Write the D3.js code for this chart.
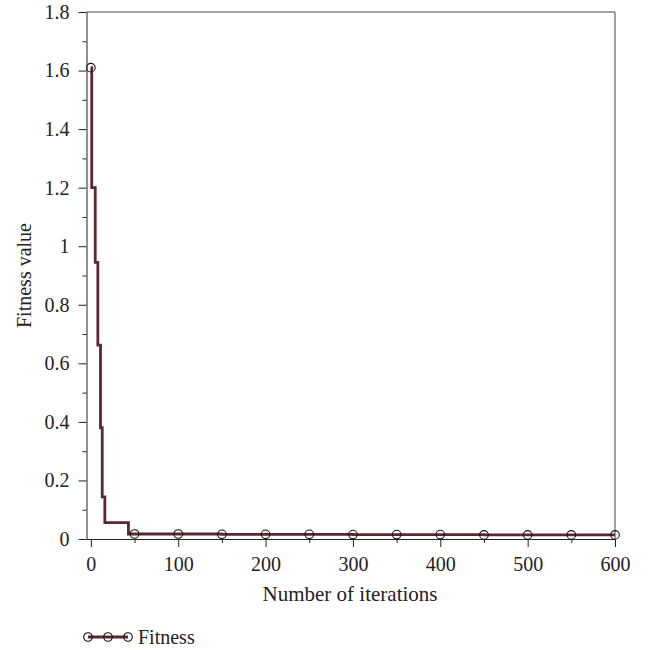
<!DOCTYPE html>
<html>
<head>
<meta charset="utf-8">
<script src="https://cdn.jsdelivr.net/npm/d3@7"></script>
<style>
  body { margin: 0; background: #fff; }
  text { font-family: "Liberation Serif", "DejaVu Serif", serif; fill: #222; }
</style>
</head>
<body>
<div id="chart"></div>
<script>
// step data (iteration, fitness)
var iterations = [0, 1, 5, 8, 11, 13, 16, 43, 50, 100, 150, 200, 250, 300, 350, 400, 450, 500, 550, 600];
var fitness    = [1.61, 1.20, 0.945, 0.662, 0.38, 0.144, 0.056, 0.017, 0.017, 0.017, 0.016, 0.016, 0.016, 0.015, 0.015, 0.015, 0.014, 0.014, 0.014, 0.014];
var xTicks = [0, 100, 200, 300, 400, 500, 600];
var xMinor = [50, 150, 250, 350, 450, 550];
var yTicks = [0, 0.2, 0.4, 0.6, 0.8, 1, 1.2, 1.4, 1.6, 1.8];
var yMinor = [0.1, 0.3, 0.5, 0.7, 0.9, 1.1, 1.3, 1.5, 1.7];
var seriesName = "Fitness";

var data = iterations.map(function(d, i) { return {it: d, v: fitness[i]}; });

var W = 653, H = 650;
var pLeft = 86.5, pRight = 615, pTop = 12, pBottom = 539;
var fs = "20px";

var svg = d3.select("#chart").append("svg")
    .attr("width", W).attr("height", H);

var x = d3.scaleLinear().domain([-5, 600]).range([pLeft, pRight]);
var y = d3.scaleLinear().domain([0, 1.8]).range([pBottom, pTop]);

// frame top/right
svg.append("path")
    .attr("d", "M" + pLeft + "," + pTop + "H" + pRight + "V" + pBottom)
    .attr("fill", "none").attr("stroke", "#444").attr("stroke-width", 1);

// x axis
var gx = svg.append("g").attr("transform", "translate(0," + pBottom + ")");
gx.call(d3.axisBottom(x).tickValues(xTicks).tickSize(8).tickSizeOuter(0).tickFormat(d3.format("d")));
gx.append("g").call(d3.axisBottom(x).tickValues(xMinor).tickSize(4).tickFormat(""))
  .select(".domain").remove();

// y axis
var gy = svg.append("g").attr("transform", "translate(" + pLeft + ",0)");
gy.call(d3.axisLeft(y).tickValues(yTicks).tickSize(8).tickSizeOuter(0).tickFormat(function(d) { return String(+d.toFixed(1)); }));
gy.append("g").call(d3.axisLeft(y).tickValues(yMinor).tickSize(4).tickFormat(""))
  .select(".domain").remove();

svg.selectAll(".domain").attr("stroke", "#222");
svg.selectAll(".tick line").attr("stroke", "#222");
svg.selectAll(".tick text")
    .style("font-family", "'Liberation Serif', serif")
    .style("font-size", fs).attr("fill", "#222");
gx.selectAll(".tick text").attr("y", 18).attr("dy", "0.71em");
gy.selectAll(".tick text").attr("x", -17);

// the line
var line = d3.line()
    .x(function(d) { return x(d.it); })
    .y(function(d) { return y(d.v); })
    .curve(d3.curveStepAfter);

svg.append("path")
    .datum(data)
    .attr("d", line)
    .attr("fill", "none")
    .attr("stroke", "#5c2730")
    .attr("stroke-width", 2.8);

// circle markers every 50 iterations
svg.selectAll("circle.mk")
    .data(data.filter(function(d) { return d.it % 50 === 0; }))
    .enter().append("circle")
    .attr("class", "mk")
    .attr("cx", function(d) { return x(d.it); })
    .attr("cy", function(d) { return y(d.v); })
    .attr("r", 4.3)
    .attr("fill", "none")
    .attr("stroke", "#111")
    .attr("stroke-width", 1.1);

// axis titles
svg.append("text")
    .attr("x", 350).attr("y", 601)
    .attr("text-anchor", "middle")
    .style("font-size", "21px")
    .text("Number of iterations");

svg.append("text")
    .attr("transform", "translate(31," + (pTop + pBottom) / 2 + ") rotate(-90)")
    .attr("text-anchor", "middle")
    .style("font-size", fs)
    .text("Fitness value");

// legend
var lg = svg.append("g").attr("transform", "translate(88,637)");
lg.append("line").attr("x1", 0).attr("x2", 40).attr("y1", 0).attr("y2", 0)
    .attr("stroke", "#5c2730").attr("stroke-width", 2.8);
lg.selectAll("circle").data([0, 20, 40]).enter().append("circle")
    .attr("cx", function(d) { return d; }).attr("cy", 0).attr("r", 4.3)
    .attr("fill", "none").attr("stroke", "#111").attr("stroke-width", 1.1);
lg.append("text").attr("x", 50).attr("y", 0).attr("dy", "0.35em")
    .style("font-size", fs).text(seriesName);
</script>
</body>
</html>
